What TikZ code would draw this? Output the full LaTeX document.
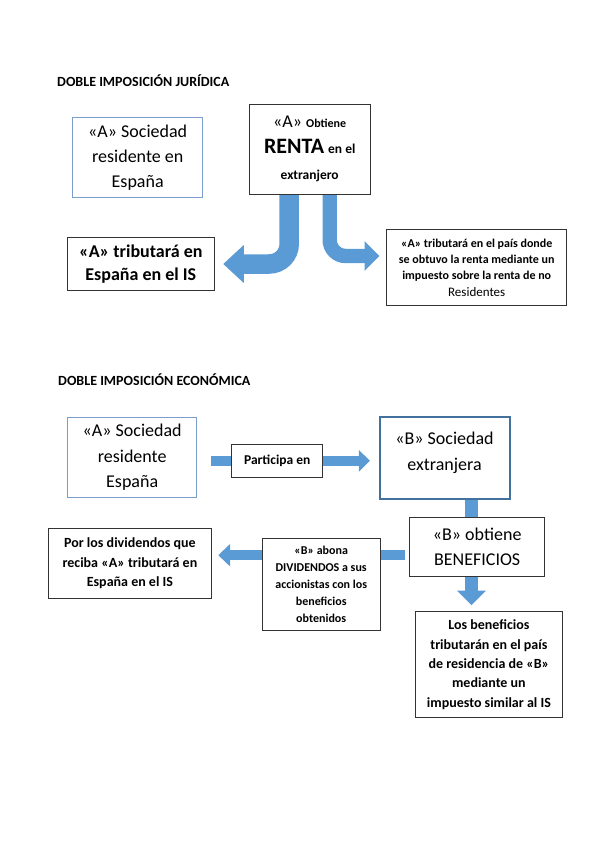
\documentclass[tikz,border=0pt]{standalone}
\usepackage{fontspec}
\setmainfont{Carlito}
\usetikzlibrary{arrows.meta,calc,backgrounds}
\definecolor{arrowblue}{RGB}{91,155,213}
\definecolor{lightframe}{RGB}{124,157,203}
\definecolor{darkframe}{RGB}{65,113,156}
\begin{document}
\begin{tikzpicture}[x=1pt,y=-1pt,
  box/.style={draw=black!80,line width=1pt,fill=white,inner sep=0pt,align=center},
  bluebox/.style={box,draw=lightframe},
  Bbox/.style={box,draw=darkframe,line width=2pt},
  title/.style={anchor=west,inner sep=0pt,font=\bfseries\fontsize{14}{17}\selectfont},
  blkarrow/.style={draw=arrowblue}]
  \useasboundingbox (0,0) rectangle (599,848);
  % doble imposicion juridica
  \node[title] (t1) at (57,81) {DOBLE IMPOSICIÓN JURÍDICA};
  \node[bluebox,minimum width=130,minimum height=80,
    font=\fontsize{18}{25.5}\selectfont] (resA) at (137.7,157.7)
    {«A» Sociedad\\residente en\\España};
  \node[box,minimum width=120.7,minimum height=89.7,
    font=\fontsize{18}{26}\selectfont] (renta) at (309.7,149.2)
    {«A» {\bfseries\fontsize{12}{26}\selectfont Obtiene}\\
     {\bfseries\fontsize{22}{26}\selectfont RENTA} {\bfseries\fontsize{13.5}{26}\selectfont en el}\\
     {\bfseries\fontsize{13.5}{26}\selectfont extranjero}};
  \node[box,minimum width=147,minimum height=53.4,
    font=\bfseries\fontsize{18}{22.4}\selectfont] (trib) at (140.8,264)
    {«A» tributará en\\España en el IS};
  \node[box,minimum width=180,minimum height=76.4,
    font=\bfseries\fontsize{12}{16.3}\selectfont] (nores) at (476.7,267.5)
    {«A» tributará en el país donde\\se obtuvo la renta mediante un\\
     impuesto sobre la renta de no\\{\mdseries\fontsize{13}{16.3}\selectfont Residentes}};
  \begin{scope}[on background layer]
    \draw[blkarrow,line width=19.5pt,rounded corners=20pt,
      -{Triangle[width=36.7pt,length=20.6pt]}]
      ([xshift=-20.5pt]renta.south) |- ([xshift=8.4pt]trib.east);
    \draw[blkarrow,line width=14.4pt,rounded corners=16pt,
      -{Triangle[width=29pt,length=15pt]}]
      ([xshift=20pt]renta.south) |- ($(nores.west)+(-6.7,-11.5)$);
  \end{scope}
  % doble imposicion economica
  \node[title] (t2) at (58,380) {DOBLE IMPOSICIÓN ECONÓMICA};
  \node[bluebox,minimum width=129,minimum height=80.4,
    font=\fontsize{18}{25.5}\selectfont] (resA2) at (132.2,457.5)
    {«A» Sociedad\\residente\\España};
  \node[box,minimum width=91.5,minimum height=33,
    font=\bfseries\fontsize{13.5}{16}\selectfont] (part) at (277.2,460.8)
    {Participa en};
  \node[Bbox,minimum width=130,minimum height=81.3,
    font=\fontsize{18}{25.7}\selectfont] (socB) at (444.5,458)
    {«B» Sociedad\\extranjera\\[-12pt]~};
  \node[box,minimum width=135,minimum height=59.3,
    font=\fontsize{18}{25.3}\selectfont] (obt2) at (477.2,546.7)
    {«B» obtiene\\BENEFICIOS};
  \node[box,minimum width=118.4,minimum height=92.4,
    font=\bfseries\fontsize{12}{17}\selectfont] (divs) at (321.2,584.5)
    {«B» abona\\DIVIDENDOS a sus\\accionistas con los\\beneficios\\obtenidos};
  \node[box,minimum width=162.7,minimum height=70,
    font=\bfseries\fontsize{14}{19.7}\selectfont] (porlos) at (129.9,563.3)
    {Por los dividendos que\\reciba «A» tributará en\\España en el IS};
  \node[box,minimum width=147.2,minimum height=106,
    font=\bfseries\fontsize{14}{19.4}\selectfont] (losben) at (488.9,664.7)
    {Los beneficios\\tributarán en el país\\de residencia de «B»\\mediante un\\impuesto similar al IS};
  \coordinate (stem) at ([xshift=27pt]socB.south);
  \begin{scope}[on background layer]
    \draw[blkarrow,line width=10.3pt,-{Triangle[width=21pt,length=11pt]}]
      ($(resA2.east |- part.center)+(14,0)$) -- ($(socB.west |- part.center)+(-8.6,0)$);
    \draw[blkarrow,line width=13.4pt] (stem) -- (stem |- obt2.north);
    \draw[blkarrow,line width=13.4pt,-{Triangle[width=28.2pt,length=14.7pt]}]
      (stem |- obt2.south) -- ($(stem |- losben.north)+(0,-6)$);
    \draw[blkarrow,line width=10.5pt,-{Triangle[width=21.7pt,length=11.8pt]}]
      ($(obt2.west)+(-4.5,8.5)$) -- ($(porlos.east |- obt2.west)+(6.5,8.5)$);
  \end{scope}
\end{tikzpicture}
\end{document}
